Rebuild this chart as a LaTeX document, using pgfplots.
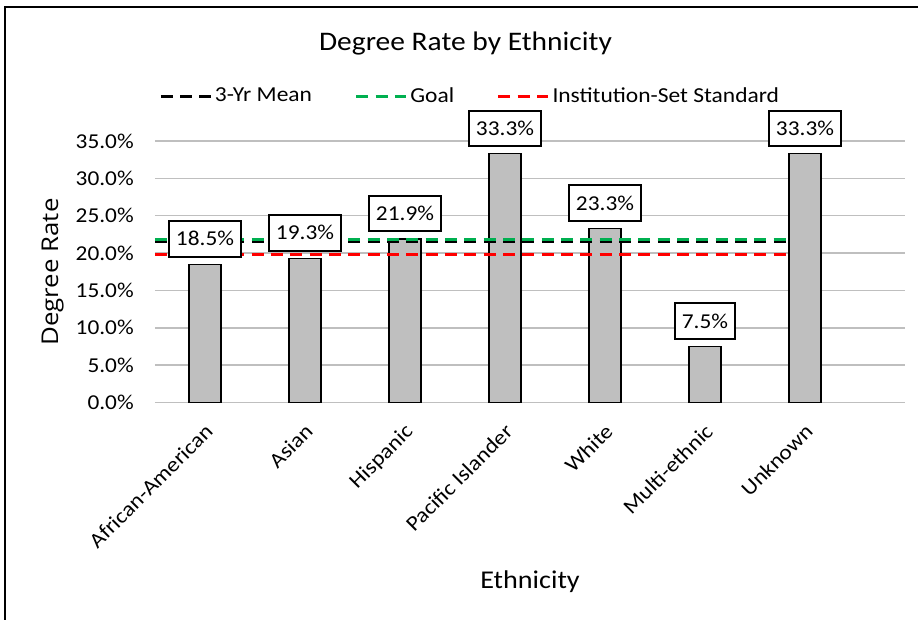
\documentclass[border=0pt]{standalone}
\usepackage{pgfplots}
\pgfplotsset{compat=1.18}
\usepackage{fontspec}
\setmainfont{Carlito}[FakeStretch=1.1]
\newfontfamily\yfont{Open Sans}[FakeStretch=1.12]
\definecolor{barfill}{HTML}{BFBFBF}
\definecolor{gridc}{HTML}{BFBFBF}
\definecolor{goalgreen}{HTML}{00B050}
\definecolor{issred}{HTML}{FF0000}
\newcommand{\tickfont}{\fontsize{15.9pt}{19pt}\selectfont}
\begin{document}
\begin{tikzpicture}
\useasboundingbox (0,0) rectangle (688.5pt,465pt);
\draw[line width=1.5pt] (3.75pt,0) -- (3.75pt,459.75pt) -- (688.5pt,459.75pt);
\node[font=\fontsize{20.1pt}{24pt}\selectfont, anchor=base, inner sep=0pt] at (349.1pt,426.75pt) {Degree Rate by Ethnicity};
\node[font=\yfont\fontsize{17.3pt}{20pt}\selectfont, rotate=90, anchor=base, inner sep=0pt] at (43.5pt,261pt) {Degree Rate};
\node[font=\fontsize{19.2pt}{23pt}\selectfont, anchor=base, inner sep=0pt] at (397.5pt,23.25pt) {Ethnicity};
\begin{axis}[
  at={(116.25pt,163.125pt)}, anchor=south west,
  width=562.5pt, height=196.125pt, scale only axis,
  xmin=-0.5, xmax=7, ymin=0, ymax=35,
  clip=false,
  axis line style={draw=none},
  major tick length=0pt,
  ytick={0,5,...,35},
  ymajorgrids,
  grid style={gridc, line width=1.1pt},
  /pgf/number format/assume math mode=true,
  yticklabel={\pgfmathprintnumber[fixed,fixed zerofill,precision=1]{\tick}\%},
  yticklabel style={font=\tickfont, anchor=east, inner sep=0pt, xshift=-15.75pt},
  xtick={0,...,6},
  xticklabels={African-American,Asian,Hispanic,Pacific Islander,White,Multi-ethnic,Unknown},
  xticklabel style={font=\tickfont, yshift=-12pt, xshift=-1pt, rotate=45, anchor=north east, inner sep=2pt},
  legend columns=3,
  legend style={at={(0.4207,1.172)}, anchor=center, draw=none, fill=none,
    font=\fontsize{16pt}{19pt}\selectfont,
    /tikz/every even column/.append style={column sep=30pt}},
  legend image code/.code={\draw[#1] (0pt,0pt) -- (37.5pt,0pt);},
]
\addplot[ybar, bar width=24pt, bar shift=0pt, fill=barfill, draw=black, line width=1.1pt, forget plot]
  coordinates {(0,18.5) (1,19.3) (2,21.9) (3,33.3) (4,23.3) (5,7.5) (6,33.3)};
\addplot[black, line width=2.25pt, dash pattern=on 9pt off 5.5pt]
  coordinates {(-0.5,21.5) (5.85,21.5)};
\addlegendentry{3-Yr Mean}
\addplot[goalgreen, line width=2.25pt, dash pattern=on 9pt off 5.5pt]
  coordinates {(-0.5,21.8) (5.85,21.8)};
\addlegendentry{Goal}
\addplot[issred, line width=2.25pt, dash pattern=on 9pt off 5.5pt]
  coordinates {(-0.5,19.8) (5.85,19.8)};
\addlegendentry{Institution-Set Standard}
\addplot[draw=none, mark=none, forget plot, point meta=y,
  nodes near coords={\pgfmathprintnumber[fixed,fixed zerofill,precision=1]{\pgfplotspointmeta}\%},
  nodes near coords style={font=\tickfont, draw=black, fill=white, line width=1.5pt,
    anchor=south, inner xsep=5pt, inner ysep=7pt, text height=11.5pt, text depth=1pt, yshift=5pt}]
  coordinates {(0,18.5) (1,19.3) (2,21.9) (3,33.3) (4,23.3) (5,7.5) (6,33.3)};
\end{axis}
\end{tikzpicture}
\end{document}
